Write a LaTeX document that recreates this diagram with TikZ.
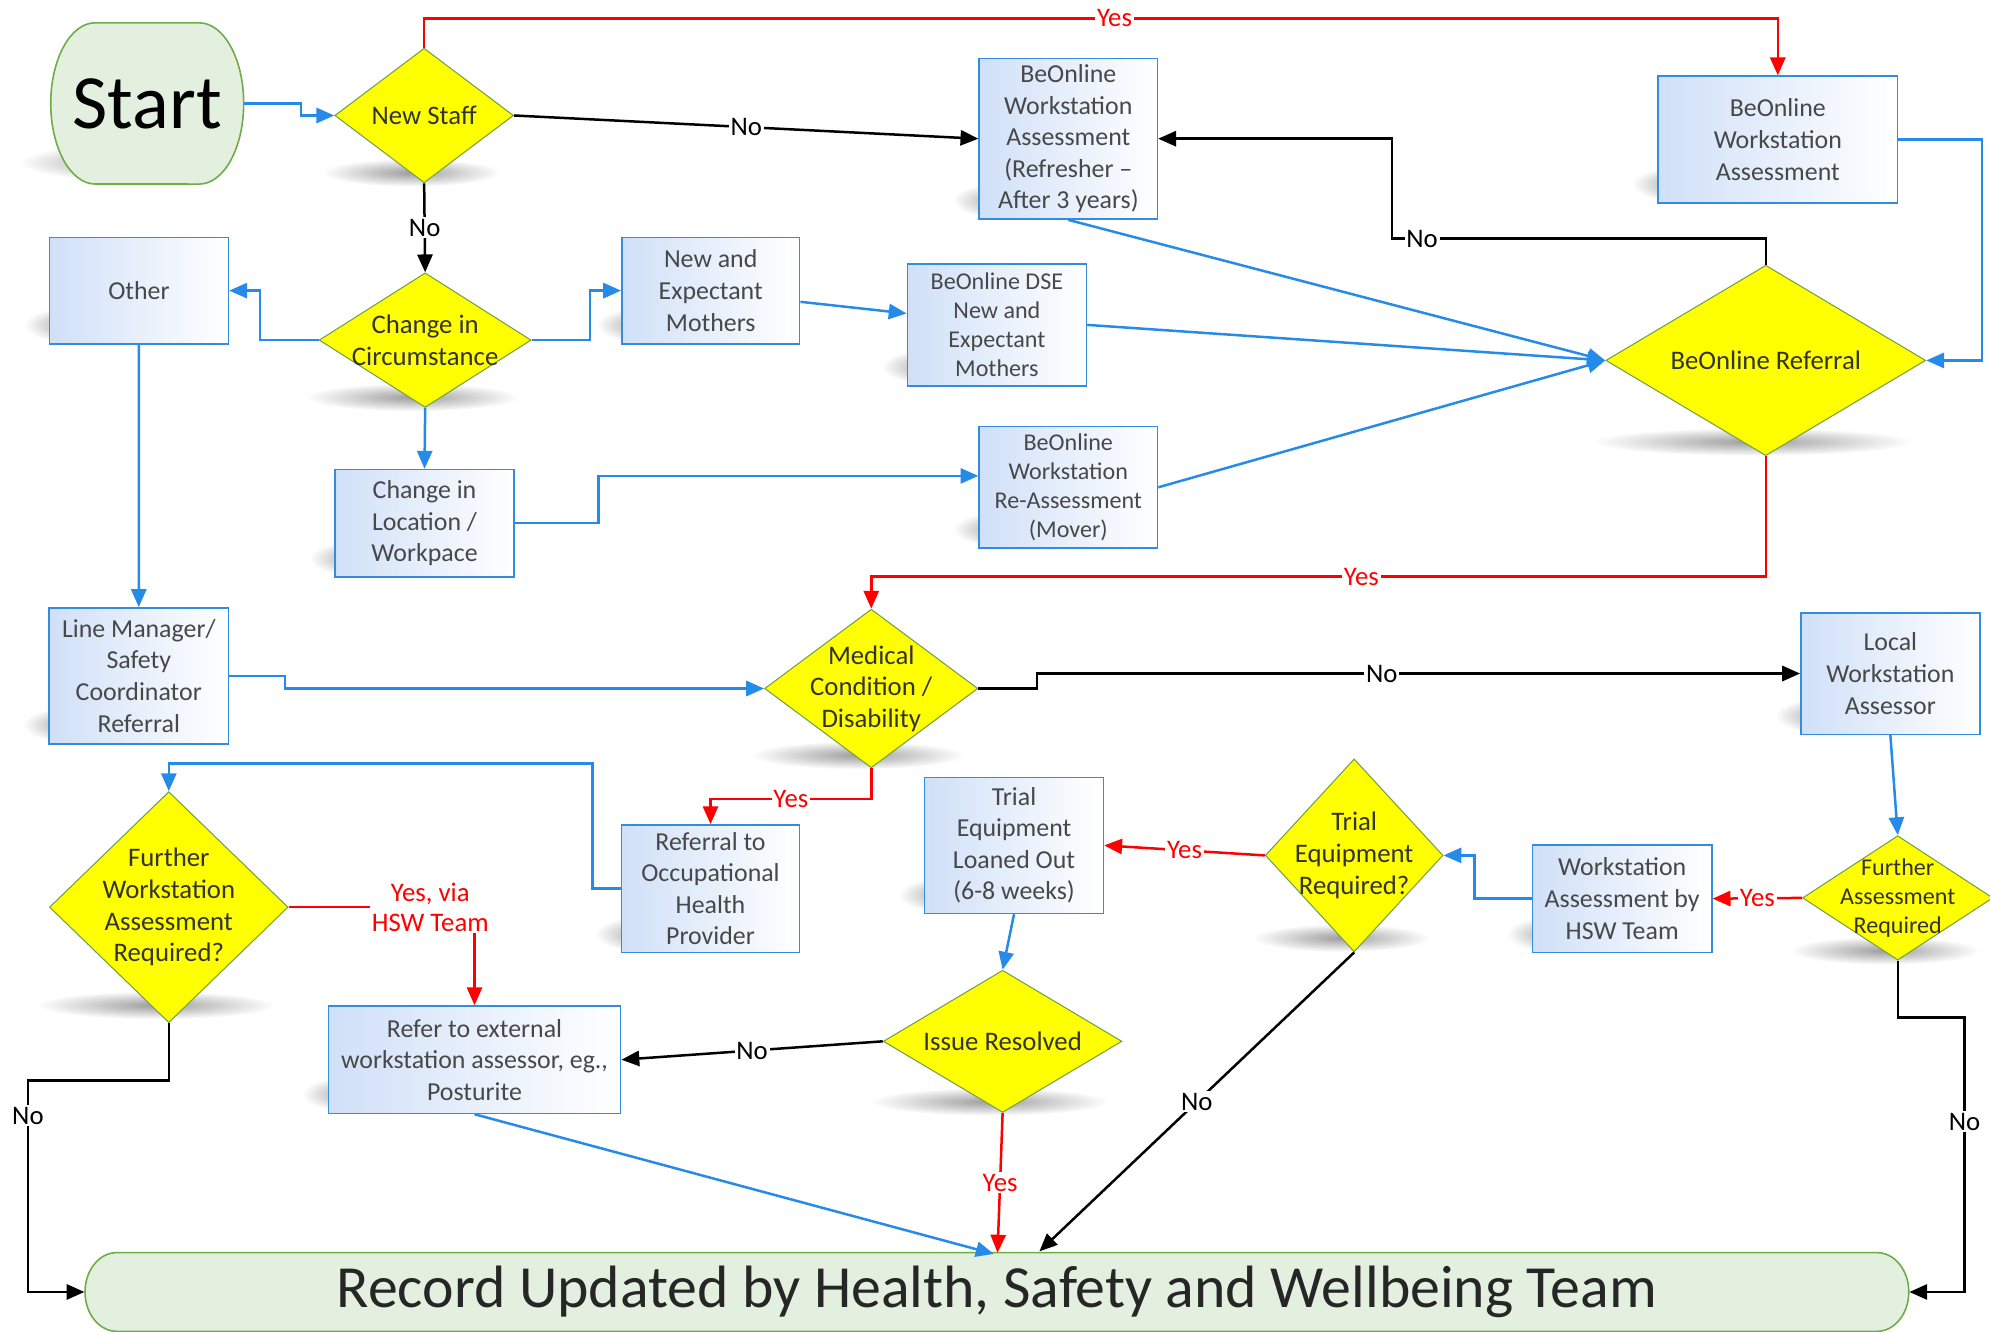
\documentclass[tikz,border=0pt]{standalone}
\usepackage{fontspec}
\setmainfont{Carlito}
\usetikzlibrary{shapes.geometric,arrows.meta,fadings}

\definecolor{linkblue}{RGB}{38,139,232}
\definecolor{boxline}{RGB}{52,140,222}
\definecolor{boxfill}{RGB}{208,224,248}
\definecolor{decfill}{RGB}{255,255,0}
\definecolor{decline}{RGB}{118,160,70}
\definecolor{termfill}{RGB}{227,240,223}
\definecolor{termline}{RGB}{112,173,71}
\definecolor{txtgray}{RGB}{72,72,72}

\tikzfading[name=softblob, inner color=transparent!30, outer color=transparent!100]

\tikzset{
  procbox/.style={rectangle, draw=boxline, line width=0.9pt, left color=boxfill, right color=white,
    text=txtgray, align=center, inner sep=1pt, font=\fontsize{14.5}{17.7}\selectfont},
  smallbox/.style={procbox, font=\fontsize{13.5}{16.3}\selectfont},
  decision/.style={diamond, draw=decline, line width=0.6pt, fill=decfill, inner sep=0pt},
  dectext/.style={align=center, text=black!80, font=\fontsize{15}{17.7}\selectfont},
  terminal/.style={draw=termline, line width=0.9pt, fill=termfill},
  bluelink/.style={draw=linkblue, line width=1.4pt, -{Triangle[length=10pt, width=8.5pt]}},
  blacklink/.style={draw=black, line width=1.4pt, -{Triangle[length=10pt, width=8.5pt]}},
  redlink/.style={draw=red, text=red, line width=1.4pt, -{Triangle[length=10pt, width=8.5pt]}},
  lbl/.style={fill=white, inner sep=1pt, font=\fontsize{15}{17}\selectfont}
}

\begin{document}
\begin{tikzpicture}[x=0.025cm, y=-0.025cm]
\useasboundingbox (0,0) rectangle (1568,1049);

% 1. Soft shadows under the shapes
\foreach \bx/\by/\brx/\bry in {100/128/85/14, 59/256/40/14, 510/256/40/14, 735/289/40/14,
    791/158/40/14, 1326/145/40/14, 284/440/40/14, 791/417/40/14, 58/571/40/14,
    1439/564/40/14, 1227/736/40/14, 748/705/40/14, 509/736/40/14, 278/862/40/14,
    324/136/70/11, 325/313/84/11, 1381/348/126/11, 676/595/84/11, 1485/749/75/11,
    1057/739/70/11, 780/868/94/11, 123/792/94/11}
  \fill[black!55, path fading=softblob] (\bx,\by) ellipse ({\brx*0.025cm} and {\bry*0.025cm});

% 2. Start and Record outlines
\draw[terminal] (75,18) -- (157,18) arc[start angle=90, end angle=-90, x radius=0.875cm, y radius=1.5875cm]
  -- (75,145) arc[start angle=270, end angle=90, x radius=0.875cm, y radius=1.5875cm] -- cycle;
\draw[terminal] (92,987) -- (1479,987) arc[start angle=90, end angle=-90, x radius=0.625cm, y radius=0.775cm]
  -- (92,1049) arc[start angle=270, end angle=90, x radius=0.625cm, y radius=0.775cm] -- cycle;
\node[minimum width=3.8cm, minimum height=3.175cm, font=\fontsize{43}{45}\selectfont] (start) at (116,81.5) {Start};
\node[minimum width=35.925cm, minimum height=1.55cm, text=black!85, font=\fontsize{33.5}{36}\selectfont] (record) at (785.5,1018)
  {Record Updated by Health, Safety and Wellbeing Team};

% 3. Process boxes
\node[procbox, minimum width=3.525cm, minimum height=2.1cm] (other) at (109.5,229) {Other};
\node[procbox, minimum width=3.5cm, minimum height=2.1cm] (nem) at (560,229) {New and\\Expectant\\Mothers};
\node[smallbox, minimum width=3.525cm, minimum height=2.4cm] (dse) at (785.5,256) {BeOnline DSE\\New and\\Expectant\\Mothers};
\node[procbox, minimum width=3.51cm, minimum height=3.165cm] (refresher) at (841.75,109.3)
  {BeOnline\\Workstation\\Assessment\\(Refresher –\\After 3 years)};
\node[procbox, minimum width=4.71cm, minimum height=2.5cm] (wsa) at (1400.8,110) {BeOnline\\Workstation\\Assessment};
\node[procbox, minimum width=3.525cm, minimum height=2.11cm] (loc) at (334.5,412.2) {Change in\\Location /\\Workpace};
\node[smallbox, minimum width=3.51cm, minimum height=2.4cm] (mover) at (841.75,384)
  {BeOnline\\Workstation\\Re-Assessment\\(Mover)};
\node[procbox, minimum width=3.53cm, minimum height=2.675cm] (lm) at (109.35,532.5)
  {Line Manager/\\Safety\\Coordinator\\Referral};
\node[procbox, minimum width=3.525cm, minimum height=2.395cm] (local) at (1489.5,530.7) {Local\\Workstation\\Assessor};
\node[procbox, minimum width=3.53cm, minimum height=2.115cm] (hsw) at (1278.2,708.1) {Workstation\\Assessment by\\HSW Team};
\node[procbox, minimum width=3.52cm, minimum height=2.68cm] (trial) at (799,666.1)
  {Trial\\Equipment\\Loaned Out\\(6-8 weeks)};
\node[procbox, minimum width=3.51cm, minimum height=2.51cm] (ohp) at (559.85,700.2)
  {Referral to\\Occupational\\Health\\Provider};
\node[procbox, minimum width=5.755cm, minimum height=2.115cm] (ext) at (373.9,835)
  {Refer to external\\workstation assessor, eg.,\\Posturite};

% 4. Decisions
\node[decision, minimum width=3.52cm, minimum height=2.65cm] (newstaff) at (334.2,91) {};
\node[dectext] (newstaffTxt) at (newstaff) {New Staff};
\node[decision, minimum width=4.175cm, minimum height=2.65cm] (change) at (335,268) {};
\node[dectext] (changeTxt) at (change) {Change in\\Circumstance};
\node[decision, minimum width=6.3cm, minimum height=3.75cm] (referral) at (1391.3,284) {};
\node[dectext] (referralTxt) at (referral) {BeOnline Referral};
\node[decision, minimum width=4.2cm, minimum height=3.125cm] (medical) at (686.5,542.5) {};
\node[dectext] (medicalTxt) at (medical) {Medical\\Condition /\\Disability};
\node[decision, minimum width=3.75cm, minimum height=2.45cm] (furtherR) at (1495.3,707.5) {};
\node[dectext, font=\fontsize{13.5}{16.3}\selectfont] (furtherRTxt) at (furtherR) {Further\\Assessment\\Required};
\node[decision, minimum width=3.5cm, minimum height=3.8cm] (trialq) at (1067,674) {};
\node[dectext] (trialqTxt) at (trialq) {Trial\\Equipment\\Required?};
\node[decision, minimum width=4.7cm, minimum height=2.8cm] (issue) at (790,820.5) {};
\node[dectext] (issueTxt) at (issue) {Issue Resolved};
\node[decision, minimum width=4.7cm, minimum height=4.55cm] (furtherL) at (133,714.8) {};
\node[dectext] (furtherLTxt) at (furtherL) {Further\\Workstation\\Assessment\\Required?};

% 5. Connector bends and ends
\coordinate (noBend) at (1097,188);
\coordinate (ohpBend) at (467,601.5);
\coordinate (leftBend) at (22,851.5);
\coordinate (rightBend) at (1548,801.6);
\coordinate (recTrial) at (819,986);
\coordinate (recIssue) at (786,987);
\coordinate (recExt) at (783,988);

% 6. Connectors
\draw[bluelink] (start.east) -- ++(45,0) |- (newstaff.west);
\draw[redlink] (newstaff.north) -- ++(0,-23) -| node[lbl, pos=0.255] {Yes} (wsa.north);
\draw[blacklink] (newstaff.east) -- node[lbl] {No} (refresher.west);
\draw[blacklink] (newstaff.south) -- node[lbl] {No} (change.north);
\draw[bluelink] (change.west) -- ++(-46,0) |- (other.east);
\draw[bluelink] (change.east) -- ++(46,0) |- (nem.west);
\draw[bluelink] (change.south) -- (loc.north);
\draw[bluelink] (other.south) -- (lm.north);
\draw[bluelink] ([yshift=-0.22cm]nem.east) -- ([yshift=0.225cm]dse.west);
\draw[bluelink] (loc.east) -- ++(66,0) |- ([yshift=0.225cm]mover.west);
\draw[bluelink] (refresher.south) -- (referral.west);
\draw[bluelink] (dse.east) -- (referral.west);
\draw[bluelink] (mover.east) -- (referral.west);
\draw[bluelink] (wsa.east) -- ++(66,0) |- (referral.east);
\draw[blacklink] (referral.north) |- node[lbl, pos=0.96] {No} (noBend) |- (refresher.east);
\draw[redlink] (referral.south) -- ++(0,95) -| node[lbl, pos=0.226] {Yes} (medical.north);
\draw[bluelink] (lm.east) -- ++(44,0) |- (medical.west);
\draw[blacklink] (medical.east) -- ++(46,0) |- node[lbl, pos=0.726] {No} (local.west);
\draw[redlink] (medical.south) -- ++(0,24) -| node[lbl, pos=0.25] {Yes} (ohp.north);
\draw[bluelink] (ohp.west) -| (ohpBend) -| (furtherL.north);
\draw[bluelink] (local.south) -- (furtherR.north);
\draw[redlink] (furtherR.west) -- node[lbl] {Yes} (hsw.east);
\draw[bluelink] (hsw.west) -- ++(-45,0) |- (trialq.east);
\draw[redlink] (trialq.west) -- node[lbl] {Yes} (trial.east);
\draw[blacklink] (trialq.south) -- node[lbl] {No} (recTrial);
\draw[bluelink] (trial.south) -- (issue.north);
\draw[blacklink] (issue.west) -- node[lbl] {No} (ext.east);
\draw[redlink] (issue.south) -- node[lbl] {Yes} (recIssue);
\draw[bluelink] (ext.south) -- (recExt);
\draw[redlink] (furtherL.east) -| node[lbl, align=center, pos=0.381] {Yes, via\\HSW Team} (ext.north);
\draw[blacklink] (furtherL.south) |- (leftBend) |- node[lbl, pos=0.083] {No} (record.west);
\draw[blacklink] (furtherR.south) |- (rightBend) |- node[lbl, pos=0.19] {No} (record.east);

\end{tikzpicture}
\end{document}
